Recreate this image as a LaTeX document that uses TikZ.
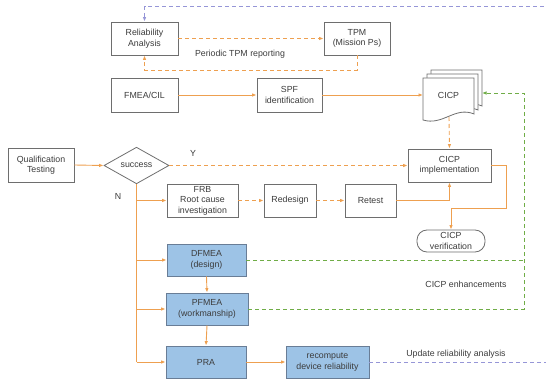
\documentclass[tikz,border=0pt]{standalone}
\usepackage{fontspec}
\setmainfont{Liberation Sans}
\usetikzlibrary{arrows.meta,shapes.geometric}
\definecolor{orng}{RGB}{238,160,80}
\definecolor{bluef}{RGB}{157,195,230}
\definecolor{blued}{RGB}{105,125,150}
\definecolor{grn}{RGB}{112,173,71}
\definecolor{purp}{RGB}{150,150,215}
\definecolor{txt}{RGB}{60,60,60}
\definecolor{bord}{RGB}{110,110,110}
\tikzset{
  box/.style={draw=bord, line width=0.8pt, fill=white, align=center, inner sep=0pt, text=txt,
    font=\fontsize{8.8}{10.5}\selectfont},
  bbox/.style={box, fill=bluef, draw=blued},
  lbl/.style={text=txt, font=\fontsize{8.8}{10.5}\selectfont, inner sep=0pt},
  tip/.style={-{Latex[length=4.5pt,width=3.5pt]}},
  oline/.style={draw=orng, line width=0.9pt},
  odash/.style={oline, dash pattern=on 4pt off 3pt},
  gdash/.style={draw=grn, line width=0.9pt, dash pattern=on 4pt off 3pt},
  pdash/.style={draw=purp, line width=0.9pt, dash pattern=on 4pt off 3pt},
}
\begin{document}
\begin{tikzpicture}[x=1pt,y=-1pt]
\useasboundingbox (0,0) rectangle (546,379);
% CICP document stack
\foreach \dx/\dy in {8/-8,4/-4,0/0}{
  \begin{scope}[shift={(423+\dx,78+\dy)}]
    \filldraw[draw=bord, fill=white, line width=0.8pt]
      (0,0) -- (51,0) -- (51,36) .. controls (32,28) and (20,48) .. (0,42) -- cycle;
  \end{scope}
}
\node[lbl, minimum width=51pt] (cicp) at (448.5,95) {CICP};
\coordinate (cicpin) at (423,95);
\coordinate (cicpR) at (482,93);
\coordinate (cicpB) at (449,117);

\node[box, minimum width=67pt, minimum height=33pt] (ra) at (144.5,38.5) {Reliability\\Analysis};
\node[box, minimum width=66pt, minimum height=33pt] (tpm) at (357,38.5) {TPM\\(Mission Ps)};
\node[box, minimum width=67pt, minimum height=34pt] (fmea) at (144.5,95) {FMEA/CIL};
\node[box, minimum width=65pt, minimum height=34pt] (spf) at (289.5,95) {SPF\\identification};
\node[box, minimum width=66pt, minimum height=34pt] (qt) at (41,165) {Qualification\\Testing};
\node[box, diamond, minimum width=65pt, minimum height=29pt] (dec) at (136.5,165.5) {success};
\node[box, minimum width=83pt, minimum height=33pt] (impl) at (449.5,165.5) {CICP\\implementation};
\node[box, minimum width=71pt, minimum height=33pt] (frb) at (202.5,200.5) {FRB\\Root cause\\investigation};
\node[box, minimum width=52pt, minimum height=33pt] (red) at (290,200.5) {Redesign};
\node[box, minimum width=51pt, minimum height=33pt] (ret) at (370.5,200.5) {Retest};
\node[box, rounded corners=10pt, minimum width=68pt, minimum height=22pt] (ver) at (451,241) {CICP\\verification};
\node[bbox, minimum width=79pt, minimum height=32pt] (df) at (206.5,260) {DFMEA\\(design)};
\node[bbox, minimum width=82pt, minimum height=32pt] (pf) at (207,309) {PFMEA\\(workmanship)};
\node[bbox, minimum width=80pt, minimum height=32pt] (pra) at (206,362) {PRA};
\node[bbox, minimum width=83pt, minimum height=32pt] (rec) at (327.5,362) {recompute\\device reliability};

% labels
\node[lbl] (lper) at (240,54) {Periodic TPM reporting};
\node[lbl] (ly) at (193,153) {Y};
\node[lbl] (ln) at (118,196) {N};
\node[lbl] (lenh) at (466,284.5) {CICP enhancements};
\node[lbl] (lupd) at (456,354) {Update reliability analysis};

% coordinates
\coordinate (ptr) at (548,6);
\coordinate (pbr) at (548,362);
\coordinate (tpmlow) at (357,70);
\coordinate (ralow) at (144.5,70);
\coordinate (gtop) at (524,93);
\coordinate (vbot) at (136.5,362);
\coordinate (implR) at (506,165.5);
\coordinate (implRB) at (506,208);
\coordinate (verT) at (451,208);

% purple feedback
\draw[pdash, tip] (rec.east) -- (pbr) -- (ptr) -- (ra.north |- ptr) -- (ra.north);
% TPM loop
\draw[odash, tip] (ra.east) -- (tpm.west);
\draw[odash, tip] (tpm.south) -- (tpmlow) -- (ralow) -- (ra.south);
% FMEA chain
\draw[oline, tip] (fmea.east) -- (spf.west);
\draw[oline, tip] (spf.east) -- (cicpin);
% green
\draw[gdash, tip] (pf.east) -| (gtop) -- (cicpR);
\draw[gdash] (df.east) -- (df.east -| gtop);
% main flow
\draw[oline, tip] (qt.east) -- (dec.west);
\draw[odash, tip] (dec.east) -- (impl.west);
\draw[odash, tip] (cicpB) -- (impl.north);
\draw[oline] (dec.south) -- (vbot);
\draw[oline, tip] (dec.south |- frb.west) -- (frb.west);
\draw[oline, tip] (dec.south |- df.west) -- (df.west);
\draw[oline, tip] (dec.south |- pf.west) -- (pf.west);
\draw[oline, tip] (vbot) -- (pra.west);
\draw[odash, tip] (frb.east) -- (red.west);
\draw[odash, tip] (red.east) -- (ret.west);
\draw[oline, tip] (ret.east) -| (impl.south);
\draw[oline, tip] (impl.east) -- (implR) -- (implRB) -- (verT) -- (ver.north);
\draw[oline, tip] (df.south) -- (pf.north);
\draw[oline, tip] (pf.south) -- (pra.north);
\draw[oline, tip] (pra.east) -- (rec.west);
\end{tikzpicture}
\end{document}
